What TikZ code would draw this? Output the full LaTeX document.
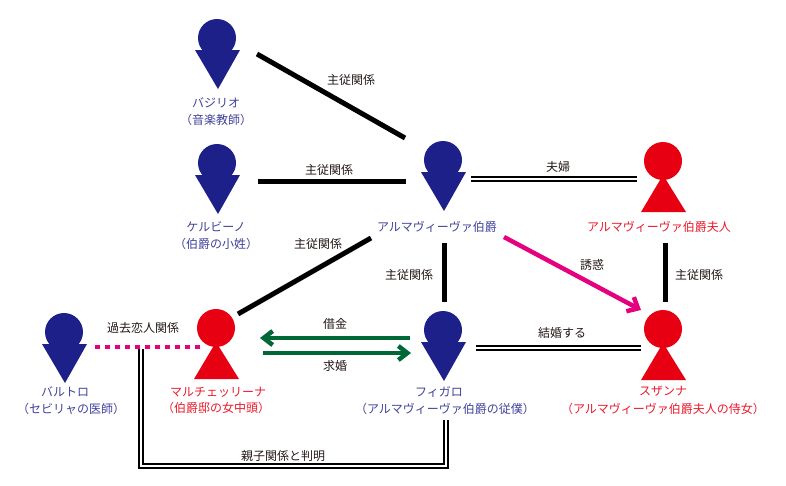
\documentclass[tikz,border=0pt]{standalone}
\usepackage{fontspec}
\setmainfont{Noto Sans CJK JP}
\usepackage{xcolor}
\usepackage{tikz}
\usetikzlibrary{arrows.meta,positioning}
\definecolor{mannavy}{RGB}{29,32,136}
\definecolor{womanred}{RGB}{230,0,18}
\definecolor{lureviolet}{RGB}{228,0,127}
\definecolor{loangreen}{RGB}{0,104,55}
\definecolor{inkblack}{RGB}{35,24,21}

\begin{document}
\begin{tikzpicture}[
    x=1pt, y=-1pt,
    head/.style={circle, minimum size=38pt, inner sep=0pt},
    man/.pic={
        \fill[mannavy] (-22,12) -- (23,12) -- (1,51) -- cycle;
        \node[head, fill=mannavy] (-head) at (0,0) {};
    },
    woman/.pic={
        \fill[womanred] (0,14) -- (23,51) -- (-22,51) -- cycle;
        \node[head, fill=womanred] (-head) at (0,0) {};
    },
    txt/.style={font=\fontsize{12}{14}\selectfont, inner sep=0pt, text=inkblack},
    manname/.style={txt, text=mannavy!85!white},
    womanname/.style={txt, text=womanred!90!white},
    servant/.style={line width=5pt, black},
    bond/.style={line width=1.7pt, double=white, double distance=2.6pt, black},
    loan/.style={-{Straight Barb[length=9pt,width=14pt]}, line width=4.5pt, loangreen},
    lure/.style={-{Straight Barb[length=9pt,width=16pt]}, line width=4.5pt, lureviolet},
    lover/.style={line width=4.5pt, lureviolet, dash pattern=on 4.5pt off 5.5pt}
]
    \useasboundingbox (0,0) rectangle (786,485);

    % Men
    \pic (basilio) at (217,38) {man};
    \pic (cherubino) at (217,163) {man};
    \pic (count) at (443,160) {man};
    \pic (figaro) at (443,330) {man};
    \pic (bartolo) at (64,332) {man};

    % Women
    \pic (countess) at (663,161) {woman};
    \pic (susanna) at (663,329) {woman};
    \pic (marcellina) at (216,328) {woman};

    % Names
    \node[manname] (basilio-name) at (216,103) {バジリオ};
    \node[manname] (basilio-role) at (216,120) {（音楽教師）};
    \node[manname] (cherubino-name) at (216,227) {ケルビーノ};
    \node[manname] (cherubino-role) at (216,244) {（伯爵の小姓）};
    \node[manname] (count-name) at (437,227) {アルマヴィーヴァ伯爵};
    \node[womanname] (countess-name) at (659,227) {アルマヴィーヴァ伯爵夫人};
    \node[manname] (bartolo-name) at (65,392) {バルトロ};
    \node[manname] (bartolo-role) at (71,409) {（セビリャの医師）};
    \node[womanname] (marcellina-name) at (218,392) {マルチェッリーナ};
    \node[womanname] (marcellina-role) at (216,408) {（伯爵邸の女中頭）};
    \node[manname] (figaro-name) at (439,392) {フィガロ};
    \node[manname] (figaro-role) at (445,409) {（アルマヴィーヴァ伯爵の従僕）};
    \node[womanname] (susanna-name) at (663,391) {スザンナ};
    \node[womanname] (susanna-role) at (663,409) {（アルマヴィーヴァ伯爵夫人の侍女）};

    % Connector ends
    \coordinate (basilio-out) at (257,54);
    \coordinate (count-nw) at (405,138);
    \coordinate (cherubino-out) at (258,181);
    \coordinate (count-w) at (406,181);
    \coordinate (marcellina-ne) at (238,314);
    \coordinate (count-sw) at (371,238);
    \coordinate (count-s) at (444,243);
    \coordinate (figaro-n) at (444,302);
    \coordinate (countess-s) at (665,243);
    \coordinate (susanna-n) at (665,302);
    \coordinate (count-e) at (471,179);
    \coordinate (countess-w) at (637,179);
    \coordinate (figaro-e) at (476,348);
    \coordinate (susanna-w) at (641,348);
    \coordinate (count-se) at (504,237);
    \coordinate (susanna-nw) at (641,310);
    \coordinate (figaro-wn) at (410,338);
    \coordinate (marcellina-en) at (260,338);
    \coordinate (marcellina-es) at (263,353);
    \coordinate (figaro-ws) at (411,353);
    \coordinate (bartolo-e) at (95,347);
    \coordinate (marcellina-w) at (199.5,347);
    \coordinate (lover-s) at (141,349);
    \coordinate (figaro-s) at (446,420);
    \coordinate (parent-r) at (446,466);

    % Connectors
    \draw[servant] (basilio-out) -- (count-nw);
    \draw[servant] (cherubino-out) -- (count-w);
    \draw[servant] (marcellina-ne) -- (count-sw);
    \draw[servant] (count-s) -- (figaro-n);
    \draw[servant] (countess-s) -- (susanna-n);
    \draw[bond] (count-e) -- (countess-w);
    \draw[bond] (figaro-e) -- (susanna-w);
    \draw[bond] (lover-s) |- (parent-r) -- (figaro-s);
    \draw[lure] (count-se) -- (susanna-nw);
    \draw[loan] (figaro-wn) -- (marcellina-en);
    \draw[loan] (marcellina-es) -- (figaro-ws);
    \draw[lover] (bartolo-e) -- (marcellina-w);

    % Relation labels
    \node[txt] (label-basilio) at (351,80) {主従関係};
    \node[txt] (label-cherubino) at (329,170) {主従関係};
    \node[txt] (label-marcellina) at (318,244) {主従関係};
    \node[txt] (label-figaro) at (409,275) {主従関係};
    \node[txt] (label-susanna) at (699,275) {主従関係};
    \node[txt] (label-couple) at (558,167) {夫婦};
    \node[txt] (label-lure) at (592,265) {誘惑};
    \node[txt] (label-marry) at (562,333) {結婚する};
    \node[txt] (label-loan) at (335,324) {借金};
    \node[txt] (label-propose) at (335,366) {求婚};
    \node[txt] (label-lover) at (143,328) {過去恋人関係};
    \node[txt] (label-parent) at (283,456) {親子関係と判明};
\end{tikzpicture}
\end{document}
